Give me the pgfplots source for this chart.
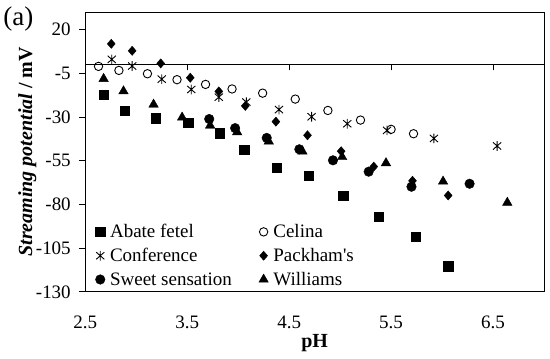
\documentclass[border=0pt]{standalone}
\usepackage{pgfplots}
\pgfplotsset{compat=1.18}
\usepackage{fontspec}
\setmainfont{Liberation Serif}
\newcommand{\fs}{\fontsize{19}{22}\selectfont}
\pgfdeclareplotmark{xstar}{%
  \pgfpathmoveto{\pgfqpoint{0pt}{\pgfplotmarksize}}%
  \pgfpathlineto{\pgfqpoint{0pt}{-\pgfplotmarksize}}%
  \pgfpathmoveto{\pgfqpoint{-.85\pgfplotmarksize}{-.75\pgfplotmarksize}}%
  \pgfpathlineto{\pgfqpoint{.85\pgfplotmarksize}{.75\pgfplotmarksize}}%
  \pgfpathmoveto{\pgfqpoint{-.85\pgfplotmarksize}{.75\pgfplotmarksize}}%
  \pgfpathlineto{\pgfqpoint{.85\pgfplotmarksize}{-.75\pgfplotmarksize}}%
  \pgfusepathqstroke}

\begin{document}
\begin{tikzpicture}
\begin{axis}[
  name=main,
  scale only axis, width=459pt, height=280pt,
  xmin=2.5, xmax=7, ymin=-130, ymax=30,
  xtick={2.5,3.5,4.5,5.5,6.5}, xticklabels={2.5,3.5,4.5,5.5,6.5},
  ytick={-130,-105,-80,-55,-30,-5,20}, yticklabels={-130,-105,-80,-55,-30,-5,20},
  x tick style={draw=none},
  ytick pos=left, tick align=outside, major tick length=6pt,
  y tick style={black, line width=0.8pt},
  axis line style={line width=0.8pt},
  tick label style={font=\fs},
  xticklabel style={yshift=-15pt},
  yticklabel style={xshift=-5pt},
  xlabel={\textbf{pH}},
  ylabel={\textbf{\textit{Streaming potential} / mV}},
  label style={font=\fontsize{20}{23}\selectfont},
  xlabel style={at={(axis description cs:0.5,-0.182)}, anchor=center},
  ylabel style={at={(axis description cs:-0.1264,0.5)}, anchor=center},
  legend columns=2,
  legend cell align=left,
  legend style={draw=none, fill=none, font=\fs, inner sep=0pt,
    at={(axis description cs:0.0218,0.010)}, anchor=south west,
    nodes={inner ysep=2pt, inner xsep=5pt}, row sep=5pt,
    /tikz/every even column/.append style={column sep=22pt}},
  legend image code/.code={\draw[mark repeat=2,mark phase=2,#1] plot coordinates {(0pt,0pt)(5pt,0pt)(10pt,0pt)};},
  every axis plot/.append style={only marks, black},
]
\addplot[mark=square*, mark size=4.6pt] coordinates {
(2.68,-17.3) (2.885,-26.3) (3.19,-30.7) (3.51,-33.5) (3.82,-39.3) (4.06,-48.9)
(4.38,-58.9) (4.69,-63.6) (5.03,-74.9) (5.38,-86.9) (5.74,-98.7) (6.06,-115.3)};
\addlegendentry{Abate fetel}
\addplot[mark=o, mark size=4.2pt, mark options={line width=0.9pt, fill=white}] coordinates {
(2.63,-1.1) (2.83,-3.4) (3.11,-5.3) (3.40,-8.7) (3.68,-11.4) (3.94,-14.0)
(4.24,-16.4) (4.56,-19.8) (4.88,-26.3) (5.20,-31.8) (5.50,-37.1) (5.72,-39.6)};
\addlegendentry{Celina}
\addplot[mark=xstar, mark size=4.8pt, mark options={line width=0.9pt}] coordinates {
(2.76,2.9) (2.96,-0.9) (3.25,-8.4) (3.54,-14.3) (3.81,-18.7) (4.08,-21.5)
(4.40,-25.8) (4.72,-29.9) (5.07,-33.9) (5.46,-37.7) (5.92,-42.3) (6.54,-46.6)};
\addlegendentry{Conference}
\addplot[mark=diamond*, mark size=4.6pt, mark options={xscale=1.15}] coordinates {
(2.755,11.8) (2.96,7.8) (3.24,0.6) (3.53,-7.6) (3.81,-15.4) (4.07,-23.7)
(4.37,-32.7) (4.68,-40.5) (5.01,-49.6) (5.33,-58.4) (5.71,-66.5) (6.06,-74.9)};
\addlegendentry{Packham\textquotesingle s}
\addplot[mark=*, mark size=4.8pt] coordinates {
(3.716,-31.2) (3.97,-36.4) (4.28,-42.0) (4.60,-48.5) (4.93,-54.8)
(5.28,-61.3) (5.70,-69.9) (6.27,-68.2)};
\addlegendentry{Sweet sensation}
\addplot[mark=triangle*, mark size=5.5pt] coordinates {
(2.68,-8.2) (2.875,-15.3) (3.17,-22.9) (3.45,-30.3) (3.725,-34.9) (3.99,-38.7)
(4.30,-44.0) (4.63,-49.7) (5.02,-52.9) (5.45,-56.4) (6.01,-66.9) (6.64,-79.0)};
\addlegendentry{Williams}
\end{axis}
\begin{axis}[
  scale only axis, width=459pt, height=280pt,
  xmin=2.5, xmax=7, ymin=-130, ymax=30,
  axis x line*=middle, axis y line=none,
  xtick={2.5,3.5,4.5,5.5,6.5}, xticklabels={},
  tick align=center, major tick length=6pt,
  x tick style={black, line width=0.8pt, yshift=-3pt},
  axis line style={line width=0.9pt},
]
\end{axis}
\node[font=\fontsize{27}{30}\selectfont] at ([xshift=-67pt,yshift=-7pt]main.north west) {(a)};
\path ([xshift=-85pt,yshift=-67pt]main.south west) rectangle ([xshift=6pt,yshift=12pt]main.north east);
\end{tikzpicture}
\end{document}
